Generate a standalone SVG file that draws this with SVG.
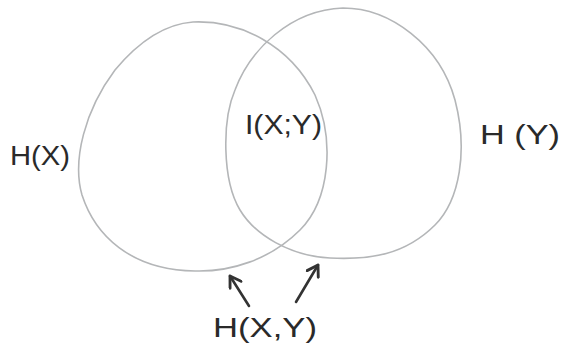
<svg xmlns="http://www.w3.org/2000/svg" width="568" height="347" viewBox="0 0 568 347">
  <defs>
    <style>
      .set { fill: none; stroke: #b4b6b8; stroke-width: 1.6; stroke-linecap: round; }
      .lbl { font-family: "Liberation Sans", Arial, sans-serif; font-size: 28px; fill: #2a2a2a; }
      .arrow { fill: none; stroke: #333; stroke-width: 2.6; stroke-linecap: round; marker-end: url(#head); }
    </style>
    <marker id="head" viewBox="0 0 12 12" refX="10" refY="6" markerWidth="6" markerHeight="6" orient="auto" markerUnits="strokeWidth">
      <path d="M 2 1 L 10 6 L 2 11" fill="none" stroke="#333" stroke-width="2.2" stroke-linecap="round" stroke-linejoin="round"/>
    </marker>
  </defs>
  <rect width="568" height="347" fill="#ffffff"/>

  <g id="setX">
    <path class="set" d="M 193 22 C 240 20, 290 45, 315 95 C 335 140, 330 200, 300 230 C 270 260, 230 272, 195 271 C 130 270, 95 235, 82 195 C 72 160, 85 110, 115 70 C 140 40, 165 24, 193 22 Z"/>
    <text class="lbl" x="10" y="165" textLength="60" lengthAdjust="spacingAndGlyphs">H(X)</text>
  </g>

  <g id="setY">
    <path class="set" d="M 343 8 C 390 8, 440 45, 455 100 C 468 150, 460 200, 435 225 C 405 255, 370 260, 330 258 C 290 256, 255 235, 240 210 C 222 180, 222 120, 235 90 C 250 50, 290 10, 343 8 Z"/>
    <text class="lbl" x="480" y="144" textLength="80" lengthAdjust="spacingAndGlyphs">H (Y)</text>
  </g>

  <g id="mutual">
    <text class="lbl" x="245" y="134" textLength="77" lengthAdjust="spacingAndGlyphs">I(X;Y)</text>
  </g>

  <g id="joint">
    <text class="lbl" x="213" y="337" textLength="104" lengthAdjust="spacingAndGlyphs">H(X,Y)</text>
  </g>

  <g id="connectors">
    <path class="arrow" d="M 249 306 L 230 276"/>
    <path class="arrow" d="M 296 302 L 318 265"/>
  </g>
</svg>
